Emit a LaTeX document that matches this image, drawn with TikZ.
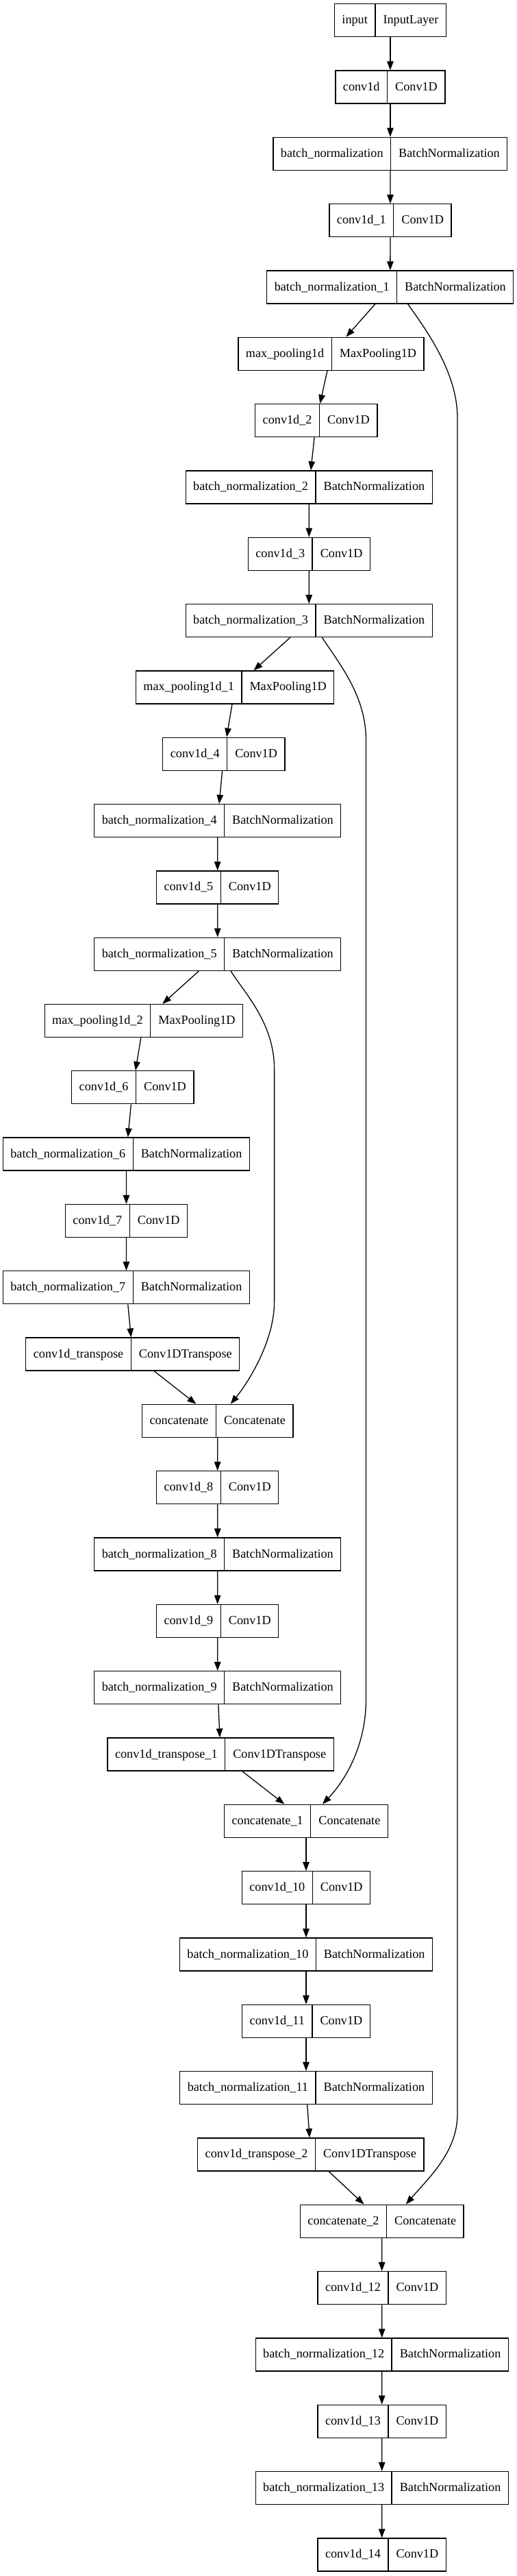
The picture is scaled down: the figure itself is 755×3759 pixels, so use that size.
\documentclass[tikz,border=0pt]{standalone}
\usepackage{fontspec}
\setmainfont{Liberation Serif}
\usetikzlibrary{arrows.meta}

\tikzset{
  layer/.style={draw, line width=1.3pt, inner sep=0pt, font=\fontsize{18.2}{22}\selectfont},
  edge/.style={line width=1.3pt, -{Triangle[length=13pt,width=9.5pt]}},
}
% one keras layer: name | class
\newcommand{\lyr}[2]{%
  \setlength{\arrayrulewidth}{1.3pt}%
  \begin{tabular}{@{\hspace{11pt}}c@{\hspace{11pt}}|@{\hspace{11pt}}c@{\hspace{11pt}}}
    \rule[-19pt]{0pt}{48pt}#1 & #2
  \end{tabular}}

\begin{document}
\begin{tikzpicture}[x=1pt,y=-1pt]
    \useasboundingbox (0,0) rectangle (755,3759);

    % encoder
    \node[layer] (inp) at (569.9,29.7) {\lyr{input}{InputLayer}};
    \node[layer] (cv0) at (569.9,127.0) {\lyr{conv1d}{Conv1D}};
    \node[layer] (bn0) at (569.9,224.3) {\lyr{batch\_normalization}{BatchNormalization}};
    \node[layer] (cv1) at (570,321.7) {\lyr{conv1d\_1}{Conv1D}};
    \node[layer] (bn1) at (569.8,419.0) {\lyr{batch\_normalization\_1}{BatchNormalization}};
    \node[layer] (mp0) at (483.5,516.3) {\lyr{max\_pooling1d}{MaxPooling1D}};
    \node[layer] (cv2) at (461.8,613.6) {\lyr{conv1d\_2}{Conv1D}};
    \node[layer] (bn2) at (451.2,710.9) {\lyr{batch\_normalization\_2}{BatchNormalization}};
    \node[layer] (cv3) at (451.4,808.3) {\lyr{conv1d\_3}{Conv1D}};
    \node[layer] (bn3) at (451.2,905.6) {\lyr{batch\_normalization\_3}{BatchNormalization}};
    \node[layer] (mp1) at (343.1,1002.9) {\lyr{max\_pooling1d\_1}{MaxPooling1D}};
    \node[layer] (cv4) at (326.9,1100.2) {\lyr{conv1d\_4}{Conv1D}};
    \node[layer] (bn4) at (317.8,1197.5) {\lyr{batch\_normalization\_4}{BatchNormalization}};
    \node[layer] (cv5) at (317.6,1294.9) {\lyr{conv1d\_5}{Conv1D}};
    \node[layer] (bn5) at (317.8,1392.2) {\lyr{batch\_normalization\_5}{BatchNormalization}};
    \node[layer] (mp2) at (209.9,1489.5) {\lyr{max\_pooling1d\_2}{MaxPooling1D}};
    \node[layer] (cv6) at (193.8,1586.8) {\lyr{conv1d\_6}{Conv1D}};
    \node[layer] (bn6) at (184.4,1684.1) {\lyr{batch\_normalization\_6}{BatchNormalization}};
    \node[layer] (cv7) at (184.5,1781.5) {\lyr{conv1d\_7}{Conv1D}};
    \node[layer] (bn7) at (184.4,1878.8) {\lyr{batch\_normalization\_7}{BatchNormalization}};

    % decoder
    \node[layer] (tr0) at (193.8,1976.1) {\lyr{conv1d\_transpose}{Conv1DTranspose}};
    \node[layer] (cat0) at (317.8,2073.4) {\lyr{concatenate}{Concatenate}};
    \node[layer] (cv8) at (317.6,2170.7) {\lyr{conv1d\_8}{Conv1D}};
    \node[layer] (bn8) at (317.8,2268.1) {\lyr{batch\_normalization\_8}{BatchNormalization}};
    \node[layer] (cv9) at (317.6,2365.4) {\lyr{conv1d\_9}{Conv1D}};
    \node[layer] (bn9) at (317.8,2462.7) {\lyr{batch\_normalization\_9}{BatchNormalization}};
    \node[layer] (tr1) at (322.1,2560.0) {\lyr{conv1d\_transpose\_1}{Conv1DTranspose}};
    \node[layer] (cat1) at (447,2657.3) {\lyr{concatenate\_1}{Concatenate}};
    \node[layer] (cv10) at (447,2754.7) {\lyr{conv1d\_10}{Conv1D}};
    \node[layer] (bn10) at (447,2852.0) {\lyr{batch\_normalization\_10}{BatchNormalization}};
    \node[layer] (cv11) at (447,2949.3) {\lyr{conv1d\_11}{Conv1D}};
    \node[layer] (bn11) at (447,3046.6) {\lyr{batch\_normalization\_11}{BatchNormalization}};
    \node[layer] (tr2) at (453.8,3143.9) {\lyr{conv1d\_transpose\_2}{Conv1DTranspose}};
    \node[layer] (cat2) at (557.8,3241.3) {\lyr{concatenate\_2}{Concatenate}};
    \node[layer] (cv12) at (557.6,3338.6) {\lyr{conv1d\_12}{Conv1D}};
    \node[layer] (bn12) at (557.8,3435.9) {\lyr{batch\_normalization\_12}{BatchNormalization}};
    \node[layer] (cv13) at (557.6,3533.2) {\lyr{conv1d\_13}{Conv1D}};
    \node[layer] (bn13) at (557.8,3630.5) {\lyr{batch\_normalization\_13}{BatchNormalization}};
    \node[layer] (cv14) at (557.6,3727.9) {\lyr{conv1d\_14}{Conv1D}};

    \draw[edge] (inp) -- (cv0);
    \draw[edge] (cv0) -- (bn0);
    \draw[edge] (bn0) -- (cv1);
    \draw[edge] (cv1) -- (bn1);
    \draw[edge] (bn1) -- (mp0);
    \draw[edge] (mp0) -- (cv2);
    \draw[edge] (cv2) -- (bn2);
    \draw[edge] (bn2) -- (cv3);
    \draw[edge] (cv3) -- (bn3);
    \draw[edge] (bn3) -- (mp1);
    \draw[edge] (mp1) -- (cv4);
    \draw[edge] (cv4) -- (bn4);
    \draw[edge] (bn4) -- (cv5);
    \draw[edge] (cv5) -- (bn5);
    \draw[edge] (bn5) -- (mp2);
    \draw[edge] (mp2) -- (cv6);
    \draw[edge] (cv6) -- (bn6);
    \draw[edge] (bn6) -- (cv7);
    \draw[edge] (cv7) -- (bn7);
    \draw[edge] (bn7) -- (tr0);
    \draw[edge] (tr0) -- (cat0);
    \draw[edge] (cat0) -- (cv8);
    \draw[edge] (cv8) -- (bn8);
    \draw[edge] (bn8) -- (cv9);
    \draw[edge] (cv9) -- (bn9);
    \draw[edge] (bn9) -- (tr1);
    \draw[edge] (tr1) -- (cat1);
    \draw[edge] (cat1) -- (cv10);
    \draw[edge] (cv10) -- (bn10);
    \draw[edge] (bn10) -- (cv11);
    \draw[edge] (cv11) -- (bn11);
    \draw[edge] (bn11) -- (tr2);
    \draw[edge] (tr2) -- (cat2);
    \draw[edge] (cat2) -- (cv12);
    \draw[edge] (cv12) -- (bn12);
    \draw[edge] (bn12) -- (cv13);
    \draw[edge] (cv13) -- (bn13);
    \draw[edge] (bn13) -- (cv14);

    % skip connections
    \coordinate (R1a) at (668,610);
    \coordinate (R1b) at (668,3085);
    \coordinate (R3a) at (534.5,1080);
    \coordinate (R3b) at (534.5,2480);
    \coordinate (R5a) at (400.6,1560);
    \coordinate (R5b) at (400.6,1900);

    \draw[edge] ([xshift=25.8pt]bn1.south) .. controls (625,485) and (668,545) .. (R1a)
      -- (R1b) .. controls (668,3140) and (626,3178) .. ([xshift=35pt]cat2.north);
    \draw[edge] ([xshift=19.2pt]bn3.south) .. controls (495,968) and (534.5,1015) .. (R3a)
      -- (R3b) .. controls (534.5,2545) and (506,2596) .. ([xshift=24pt]cat1.north);
    \draw[edge] ([xshift=19.2pt]bn5.south) .. controls (356,1448) and (400.6,1492) .. (R5a)
      -- (R5b) .. controls (400.6,1955) and (365,2014) .. ([xshift=19pt]cat0.north);
\end{tikzpicture}
\end{document}
